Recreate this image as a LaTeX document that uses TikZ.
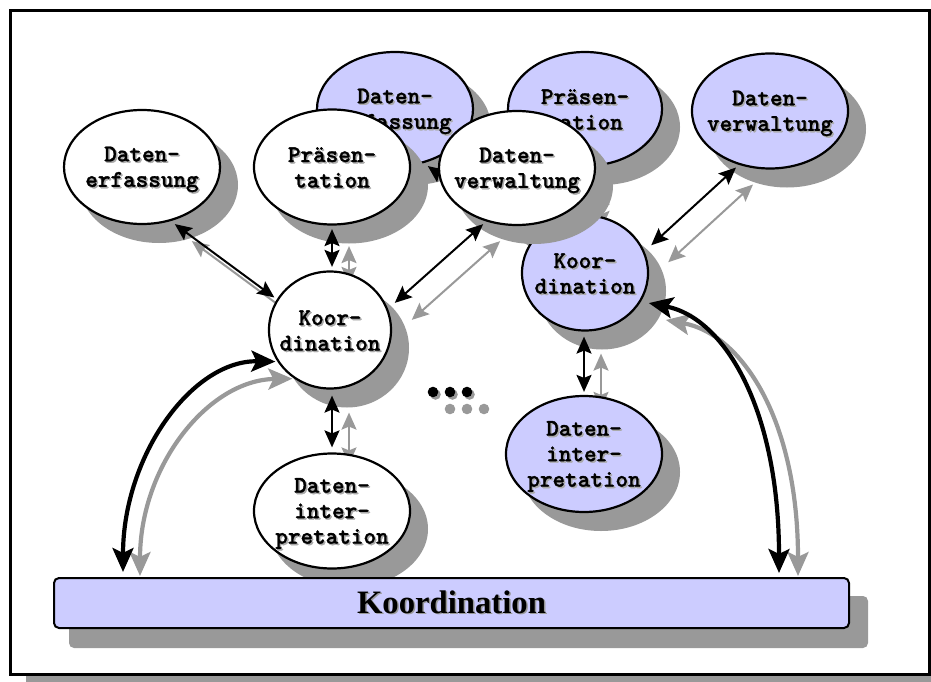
\documentclass[tikz,border=0pt]{standalone}
\usepackage{fontspec}
\setmainfont{Liberation Serif}
\newfontfamily\courb{lmmonolt10-bold.otf}[FakeBold=1.3]
\usetikzlibrary{shapes.geometric,arrows.meta}
\definecolor{shc}{RGB}{153,153,153}
\definecolor{lavc}{RGB}{204,204,255}
\definecolor{tshc}{RGB}{170,170,170}
\newcommand\shtxt[1]{\leavevmode\rlap{\kern1.5pt\raisebox{-1.5pt}{\textcolor{tshc}{#1}}}#1}
\newcommand\shbig[1]{\leavevmode\rlap{\kern1.5pt\raisebox{-1.5pt}{\textcolor{shc}{#1}}}#1}
\newcommand\topst{\rule{0pt}{21pt}}
\newcommand\botst{\rule[-5.5pt]{0pt}{5.5pt}}
\newcommand\mfont{\courb\fontsize{24pt}{25.5pt}\selectfont}
\pgfdeclarelayer{framelayer}
\pgfdeclarelayer{lshadow}
\pgfdeclarelayer{larrow}
\pgfdeclarelayer{lnode}
\pgfdeclarelayer{wshadow}
\pgfdeclarelayer{warrow}
\pgfsetlayers{framelayer,lshadow,larrow,lnode,wshadow,warrow,main}
\tikzset{
  ell/.style={ellipse, draw, line width=2.2pt, inner xsep=-20pt, inner ysep=-10pt, font=\mfont, align=center, text=black},
  wht/.style={ell, fill=white},
  lav/.style={ell, fill=lavc},
  sar/.style={line width=2pt, {Stealth[length=17pt,width=15pt,inset=3pt]}-{Stealth[length=17pt,width=15pt,inset=3pt]}},
  car/.style={line width=4.2pt, {Stealth[length=24pt,width=21pt,inset=5pt]}-{Stealth[length=24pt,width=21pt,inset=5pt]}},
  gry/.style={color=shc},
  sshift/.style={transform canvas={shift={(17pt,-17pt)}}},
  barbox/.style={rectangle, rounded corners=5pt, draw, line width=2pt, fill=lavc, minimum width=795pt, minimum height=50pt, inner sep=0pt, font=\fontsize{32.7pt}{36pt}\selectfont\bfseries},
}
\begin{document}
\begin{tikzpicture}[x=1pt,y=-1pt]
\useasboundingbox (0,0) rectangle (931,682);
% frame
\begin{pgfonlayer}{framelayer}
  \fill[white] (0,0) rectangle (931,682);
  \fill[shc] (26,18) rectangle (945,682);
  \draw[line width=3pt, fill=white] (10,11) rectangle (929,674);
\end{pgfonlayer}
% lavender group nodes
\begin{pgfonlayer}{lnode}
  \node[lav, minimum width=156pt, minimum height=114pt] (lDE) at (395,109) {\topst\shtxt{Daten-}\\\shtxt{erfassung}\botst};
  \node[lav, minimum width=154pt, minimum height=114pt] (lPR) at (585,109) {\topst\shtxt{Präsen-}\\\shtxt{tation}\botst};
  \node[lav, minimum width=156pt, minimum height=115pt] (lDV) at (770,111) {\topst\shtxt{Daten-}\\\shtxt{verwaltung}\botst};
  \node[lav, minimum width=126pt, minimum height=115pt] (lKO) at (585,273) {\topst\shtxt{Koor-}\\\shtxt{dination}\botst};
  \node[lav, minimum width=156pt, minimum height=116pt] (lDI) at (584,454) {\topst\shtxt{Daten-}\\\shtxt{inter-}\\\shtxt{pretation}\botst};
\end{pgfonlayer}
% white group nodes
\node[wht, minimum width=156pt, minimum height=114pt] (DE) at (142,167) {\topst\shtxt{Daten-}\\\shtxt{erfassung}\botst};
\node[wht, minimum width=156pt, minimum height=115pt] (PR) at (332,167) {\topst\shtxt{Präsen-}\\\shtxt{tation}\botst};
\node[wht, minimum width=156pt, minimum height=114pt] (DV) at (517,168) {\topst\shtxt{Daten-}\\\shtxt{verwaltung}\botst};
\node[wht, minimum width=122pt, minimum height=117pt] (KO) at (330,330) {\topst\shtxt{Koor-}\\\shtxt{dination}\botst};
\node[wht, minimum width=156pt, minimum height=115pt] (DI) at (332,511) {\topst\shtxt{Daten-}\\\shtxt{inter-}\\\shtxt{pretation}\botst};
% bar
\node[barbox] (bar) at (451.5,603) {\shbig{Koordination}};
% shadows
\begin{pgfonlayer}{lshadow}
  \foreach \n/\a/\b in {lDE/79pt/58pt, lPR/78pt/58pt, lDV/79pt/58.5pt, lKO/64pt/58.5pt, lDI/79pt/59pt}
    \fill[shc] ([xshift=17pt,yshift=-18pt]\n.center) ellipse [x radius=\a, y radius=\b];
\end{pgfonlayer}
\begin{pgfonlayer}{wshadow}
  \foreach \n/\a/\b in {DE/79pt/58pt, PR/79pt/58.5pt, DV/79pt/58pt, KO/62pt/59.5pt, DI/79pt/58.5pt}
    \fill[shc] ([xshift=17pt,yshift=-18pt]\n.center) ellipse [x radius=\a, y radius=\b];
  \fill[shc, rounded corners=5pt] ([xshift=16pt,yshift=-19pt]bar.north west) rectangle ([xshift=18pt,yshift=-19pt]bar.south east);
\end{pgfonlayer}
% lavender group connectors
\begin{pgfonlayer}{larrow}
  \draw[sar, gry, sshift, shorten <=5pt, shorten >=3pt] (lDE.-62) -- (lKO.150);
  \draw[sar, shorten <=5pt, shorten >=3pt] (lDE.-62) -- (lKO.150);
  \draw[sar, gry, sshift, shorten <=3.5pt, shorten >=3.5pt] (lPR.south) -- (lPR.south |- lKO.north);
  \draw[sar, shorten <=3.5pt, shorten >=3.5pt] (lPR.south) -- (lPR.south |- lKO.north);
  \draw[sar, gry, sshift, shorten <=4pt, shorten >=9pt] (lDV.240) -- (lKO.20);
  \draw[sar, shorten <=4pt, shorten >=9pt] (lDV.240) -- (lKO.20);
  \draw[sar, gry, sshift, shorten <=5pt, shorten >=3pt] (lDI.north |- lKO.south) -- (lDI.north);
  \draw[sar, shorten <=5pt, shorten >=3pt] (lDI.north |- lKO.south) -- (lDI.north);
\end{pgfonlayer}
% white group connectors
\begin{pgfonlayer}{warrow}
  \draw[sar, gry, sshift, shorten <=5pt, shorten >=3pt] (DE.-62) -- (KO.150);
  \draw[sar, shorten <=5pt, shorten >=3pt] (DE.-62) -- (KO.150);
  \draw[sar, gry, sshift, shorten <=3.5pt, shorten >=3.5pt] (PR.south) -- (PR.south |- KO.north);
  \draw[sar, shorten <=3.5pt, shorten >=3.5pt] (PR.south) -- (PR.south |- KO.north);
  \draw[sar, gry, sshift, shorten <=4pt, shorten >=9pt] (DV.240) -- (KO.20);
  \draw[sar, shorten <=4pt, shorten >=9pt] (DV.240) -- (KO.20);
  \draw[sar, gry, sshift, shorten <=6pt, shorten >=5pt] (DI.north |- KO.south) -- (DI.north);
  \draw[sar, shorten <=6pt, shorten >=5pt] (DI.north |- KO.south) -- (DI.north);
  % curved connectors to the bar
  \draw[car, gry, shorten <=1pt, shorten >=2pt] ([xshift=87pt]bar.north west) .. controls (140,466) and (208,380) .. ([xshift=17pt,yshift=-17pt]KO.211);
  \draw[car, shorten <=5pt, shorten >=2pt] ([xshift=70pt]bar.north west) .. controls (123,456) and (192,360) .. (KO.211);
  \draw[car, gry, shorten <=1pt, shorten >=8pt] ([xshift=745pt]bar.north west) .. controls (798,420) and (742,334) .. ([xshift=17pt,yshift=-17pt]lKO.-27);
  \draw[car, shorten <=4pt, shorten >=8pt] ([xshift=726pt]bar.north west) .. controls (779,410) and (725,318) .. (lKO.-27);
\end{pgfonlayer}
% dots
\foreach \px in {450,467,484} \fill[shc] (\px,409) circle[radius=5.3pt];
\foreach \px in {433,450,467} {
  \fill[shc] (\px+2.5,394.5) circle[radius=5.3pt];
  \fill[black] (\px,392) circle[radius=5.3pt];
}
\end{tikzpicture}
\end{document}
